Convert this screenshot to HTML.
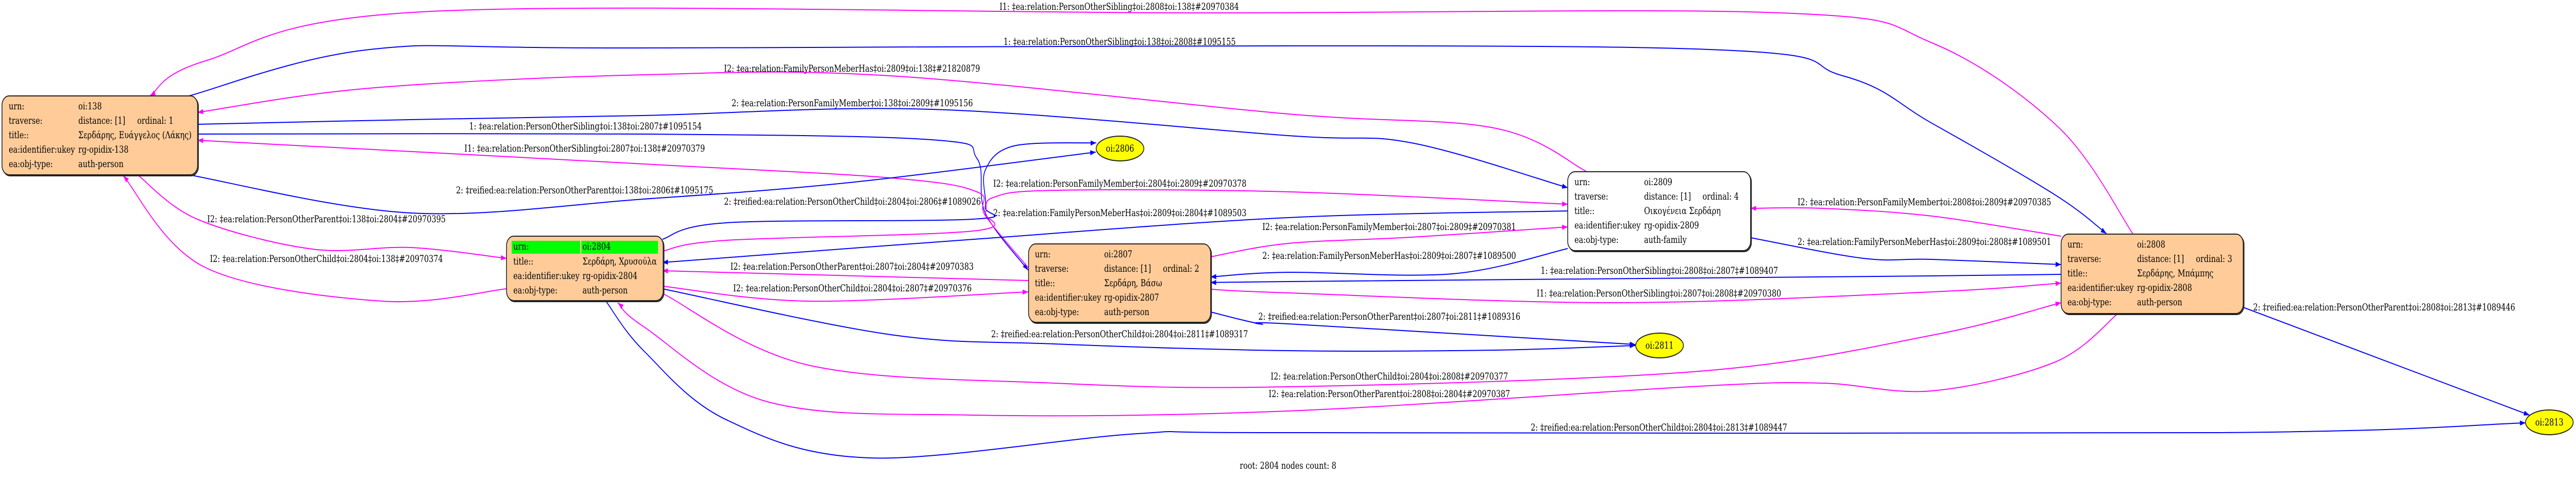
<!DOCTYPE html>
<html><head><meta charset="utf-8"><style>
html,body{margin:0;padding:0;background:#fff;width:100%;height:100%;overflow:hidden;}
svg{display:block;position:absolute;left:0;top:0;width:100vw;height:100vh;}
text{font-family:"DejaVu Serif","Liberation Serif",serif;font-size:18.67px;fill:#000;}
</style></head><body>
<svg id="s" viewBox="0 0 6479 925" preserveAspectRatio="none" xmlns="http://www.w3.org/2000/svg">
<defs>
<marker id="mm" markerUnits="userSpaceOnUse" markerWidth="16" markerHeight="12" refX="14" refY="5" orient="auto"><path d="M0,0 L14,5 L0,10 z" fill="#ff00ff"/></marker>
<marker id="mb" markerUnits="userSpaceOnUse" markerWidth="16" markerHeight="12" refX="14" refY="5" orient="auto"><path d="M0,0 L14,5 L0,10 z" fill="#0000ff"/></marker>
</defs>
<g id="edges" fill="none" stroke-width="2"></g>

<g stroke="#222" stroke-width="2">
<rect x="7" y="188" width="492" height="153" rx="18" fill="#555"/>
<rect x="5" y="186" width="492" height="153" rx="18" fill="#ffcc99"/>
<rect x="1276" y="460" width="394" height="125" rx="18" fill="#555"/>
<rect x="1274" y="458" width="394" height="125" rx="18" fill="#ffcc99"/>
<rect x="2589" y="475" width="458" height="152" rx="18" fill="#555"/>
<rect x="2587" y="473" width="458" height="152" rx="18" fill="#ffcc99"/>
<rect x="3945" y="335" width="460" height="153" rx="18" fill="#555"/>
<rect x="3943" y="333" width="460" height="153" rx="18" fill="#fff"/>
<rect x="5186" y="456" width="458" height="154" rx="18" fill="#555"/>
<rect x="5184" y="454" width="458" height="154" rx="18" fill="#ffcc99"/>
<ellipse cx="2817" cy="288" rx="60" ry="24" fill="#ffff00"/>
<ellipse cx="4174" cy="670" rx="60" ry="24" fill="#ffff00"/>
<ellipse cx="6412" cy="819" rx="60" ry="24" fill="#ffff00"/>
</g>
<rect x="1287" y="467" width="172" height="25" fill="#00ff00"/>
<rect x="1462" y="467" width="193" height="25" fill="#00ff00"/>

<g>
<text x="22" y="212">urn:</text><text x="197" y="212">oi:138</text>
<text x="22" y="240">traverse:</text><text x="197" y="240">distance: [1]</text><text x="345" y="240">ordinal: 1</text>
<text x="22" y="268">title::</text><text x="197" y="268">Σερδάρης, Ευάγγελος (Λάκης)</text>
<text x="22" y="296">ea:identifier:ukey</text><text x="197" y="296">rg-opidix-138</text>
<text x="22" y="324">ea:obj-type:</text><text x="197" y="324">auth-person</text>

<text x="1291" y="484">urn:</text><text x="1465" y="484">oi:2804</text>
<text x="1291" y="513">title::</text><text x="1465" y="513">Σερδάρη, Χρυσούλα</text>
<text x="1291" y="541">ea:identifier:ukey</text><text x="1465" y="541">rg-opidix-2804</text>
<text x="1291" y="569">ea:obj-type:</text><text x="1465" y="569">auth-person</text>

<text x="2603" y="499">urn:</text><text x="2777" y="499">oi:2807</text>
<text x="2603" y="527">traverse:</text><text x="2777" y="527">distance: [1]</text><text x="2925" y="527">ordinal: 2</text>
<text x="2603" y="555">title::</text><text x="2777" y="555">Σερδάρη, Βάσω</text>
<text x="2603" y="583">ea:identifier:ukey</text><text x="2777" y="583">rg-opidix-2807</text>
<text x="2603" y="611">ea:obj-type:</text><text x="2777" y="611">auth-person</text>

<text x="3960" y="359">urn:</text><text x="4135" y="359">oi:2809</text>
<text x="3960" y="387">traverse:</text><text x="4135" y="387">distance: [1]</text><text x="4282" y="387">ordinal: 4</text>
<text x="3960" y="415">title::</text><text x="4135" y="415">Οικογένεια Σερδάρη</text>
<text x="3960" y="443">ea:identifier:ukey</text><text x="4135" y="443">rg-opidix-2809</text>
<text x="3960" y="471">ea:obj-type:</text><text x="4135" y="471">auth-family</text>

<text x="5200" y="480">urn:</text><text x="5375" y="480">oi:2808</text>
<text x="5200" y="508">traverse:</text><text x="5375" y="508">distance: [1]</text><text x="5523" y="508">ordinal: 3</text>
<text x="5200" y="536">title::</text><text x="5375" y="536">Σερδάρης, Μπάμπης</text>
<text x="5200" y="564">ea:identifier:ukey</text><text x="5375" y="564">rg-opidix-2808</text>
<text x="5200" y="592">ea:obj-type:</text><text x="5375" y="592">auth-person</text>

<text x="2817" y="294" text-anchor="middle">oi:2806</text>
<text x="4174" y="676" text-anchor="middle">oi:2811</text>
<text x="6412" y="825" text-anchor="middle">oi:2813</text>
</g>

<g>
<text x="2514" y="19" textLength="602" lengthAdjust="spacingAndGlyphs">I1: ‡ea:relation:PersonOtherSibling‡oi:2808‡oi:138‡#20970384</text>
<text x="2524" y="87" textLength="584" lengthAdjust="spacingAndGlyphs">1: ‡ea:relation:PersonOtherSibling‡oi:138‡oi:2808‡#1095155</text>
<text x="1821" y="139" textLength="644" lengthAdjust="spacingAndGlyphs">I2: ‡ea:relation:FamilyPersonMeberHas‡oi:2809‡oi:138‡#21820879</text>
<text x="1840" y="206" textLength="607" lengthAdjust="spacingAndGlyphs">2: ‡ea:relation:PersonFamilyMember‡oi:138‡oi:2809‡#1095156</text>
<text x="1180" y="251" textLength="585" lengthAdjust="spacingAndGlyphs">1: ‡ea:relation:PersonOtherSibling‡oi:138‡oi:2807‡#1095154</text>
<text x="1168" y="294" textLength="605" lengthAdjust="spacingAndGlyphs">I1: ‡ea:relation:PersonOtherSibling‡oi:2807‡oi:138‡#20970379</text>
<text x="1147" y="375" textLength="647" lengthAdjust="spacingAndGlyphs">2: ‡reified:ea:relation:PersonOtherParent‡oi:138‡oi:2806‡#1095175</text>
<text x="521" y="431" textLength="600" lengthAdjust="spacingAndGlyphs">I2: ‡ea:relation:PersonOtherParent‡oi:138‡oi:2804‡#20970395</text>
<text x="528" y="508" textLength="586" lengthAdjust="spacingAndGlyphs">I2: ‡ea:relation:PersonOtherChild‡oi:2804‡oi:138‡#20970374</text>
<text x="1821" y="397" textLength="646" lengthAdjust="spacingAndGlyphs">2: ‡reified:ea:relation:PersonOtherChild‡oi:2804‡oi:2806‡#1089026</text>
<text x="2498" y="362" textLength="637" lengthAdjust="spacingAndGlyphs">I2: ‡ea:relation:PersonFamilyMember‡oi:2804‡oi:2809‡#20970378</text>
<text x="2498" y="419" textLength="637" lengthAdjust="spacingAndGlyphs">2: ‡ea:relation:FamilyPersonMeberHas‡oi:2809‡oi:2804‡#1089503</text>
<text x="1837" y="523" textLength="612" lengthAdjust="spacingAndGlyphs">I2: ‡ea:relation:PersonOtherParent‡oi:2807‡oi:2804‡#20970383</text>
<text x="1844" y="565" textLength="600" lengthAdjust="spacingAndGlyphs">I2: ‡ea:relation:PersonOtherChild‡oi:2804‡oi:2807‡#20970376</text>
<text x="2493" y="654" textLength="646" lengthAdjust="spacingAndGlyphs">2: ‡reified:ea:relation:PersonOtherChild‡oi:2804‡oi:2811‡#1089317</text>
<text x="3165" y="620" textLength="659" lengthAdjust="spacingAndGlyphs">2: ‡reified:ea:relation:PersonOtherParent‡oi:2807‡oi:2811‡#1089316</text>
<text x="3175" y="446" textLength="638" lengthAdjust="spacingAndGlyphs">I2: ‡ea:relation:PersonFamilyMember‡oi:2807‡oi:2809‡#20970381</text>
<text x="3175" y="502" textLength="638" lengthAdjust="spacingAndGlyphs">2: ‡ea:relation:FamilyPersonMeberHas‡oi:2809‡oi:2807‡#1089500</text>
<text x="3875" y="531" textLength="597" lengthAdjust="spacingAndGlyphs">1: ‡ea:relation:PersonOtherSibling‡oi:2808‡oi:2807‡#1089407</text>
<text x="3865" y="575" textLength="615" lengthAdjust="spacingAndGlyphs">I1: ‡ea:relation:PersonOtherSibling‡oi:2807‡oi:2808‡#20970380</text>
<text x="4521" y="398" textLength="638" lengthAdjust="spacingAndGlyphs">I2: ‡ea:relation:PersonFamilyMember‡oi:2808‡oi:2809‡#20970385</text>
<text x="4521" y="475" textLength="638" lengthAdjust="spacingAndGlyphs">2: ‡ea:relation:FamilyPersonMeberHas‡oi:2809‡oi:2808‡#1089501</text>
<text x="3196" y="736" textLength="597" lengthAdjust="spacingAndGlyphs">I2: ‡ea:relation:PersonOtherChild‡oi:2804‡oi:2808‡#20970377</text>
<text x="3191" y="770" textLength="607" lengthAdjust="spacingAndGlyphs">I2: ‡ea:relation:PersonOtherParent‡oi:2808‡oi:2804‡#20970387</text>
<text x="3850" y="835" textLength="645" lengthAdjust="spacingAndGlyphs">2: ‡reified:ea:relation:PersonOtherChild‡oi:2804‡oi:2813‡#1089447</text>
<text x="5667" y="602" textLength="659" lengthAdjust="spacingAndGlyphs">2: ‡reified:ea:relation:PersonOtherParent‡oi:2808‡oi:2813‡#1089446</text>
<text x="3118" y="909" textLength="243" lengthAdjust="spacingAndGlyphs">root: 2804 nodes count: 8</text>
</g>
</svg>
<script>
var M='#ff00ff',B='#0000ff';
var E=[
[M,[[5365,454],[5179,248],[4859,83],[4480,25],[3000,25],[1085,22],[517,118],[377,186]]],
[B,[[475,186],[930,96],[1600,93],[4170,93],[4635,147],[4859,239],[5169,378],[5298,453]]],
[M,[[3989,332],[3757,248],[3240,221],[2240,147],[1620,145],[930,171],[497,218]]],
[B,[[497,241],[1033,232],[1620,224],[2343,212],[3240,263],[3550,277],[3943,364]]],
[B,[[497,260],[1620,260],[2343,271],[2457,307],[2478,413],[2586,524]]],
[M,[[2586,519],[2478,418],[2457,372],[2240,345],[1620,318],[497,272]]],
[B,[[475,339],[1033,413],[1620,386],[2137,354],[2756,295]]],
[M,[[346,339],[496,425],[785,483],[1033,480],[1274,501]]],
[M,[[1274,560],[961,584],[517,519],[310,341]]],
[B,[[1666,464],[1827,432],[2447,425],[2478,401],[2478,330],[2550,283],[2757,277]]],
[M,[[1666,487],[1827,466],[2447,448],[2478,413],[2498,383],[2653,369],[3240,372],[3943,396]]],
[B,[[3943,409],[3240,422],[2467,463],[1666,509]]],
[M,[[2586,544],[1666,525]]],
[M,[[1666,555],[2033,584],[2586,566]]],
[B,[[1666,560],[2240,649],[2653,667],[3240,680],[3757,679],[4113,670]]],
[B,[[3045,605],[3170,628],[3240,628],[4113,668]]],
[M,[[3045,498],[3240,472],[3550,460],[3943,440]]],
[B,[[3943,482],[3653,531],[3240,528],[3045,537]]],
[B,[[5184,532],[4860,535],[3240,546],[3045,548]]],
[M,[[3045,561],[3240,568],[4067,587],[4860,566],[5184,549]]],
[M,[[5184,458],[4859,419],[4583,404],[4403,404]]],
[B,[[4403,461],[4687,501],[4860,503],[5184,513]]],
[M,[[1669,570],[2033,708],[2653,743],[3240,750],[4273,720],[4860,650],[5184,587]]],
[M,[[5327,608],[5169,702],[4859,758],[4583,743],[4273,749],[3240,797],[2447,805],[1930,779],[1620,634],[1554,587]]],
[B,[[1524,584],[1620,681],[1827,814],[2188,888],[2860,841],[3240,839],[5582,839],[6352,820]]],
[B,[[5642,596],[6362,805]]]
];
function cr(p){if(p.length==2)return 'M'+p[0]+' L'+p[1];var d='M'+p[0][0]+','+p[0][1];
for(var i=0;i<p.length-1;i++){var p0=p[i-1]||p[i],p1=p[i],p2=p[i+1],p3=p[i+2]||p2;
var c1=[p1[0]+(p2[0]-p0[0])/6,p1[1]+(p2[1]-p0[1])/6],c2=[p2[0]-(p3[0]-p1[0])/6,p2[1]-(p3[1]-p1[1])/6];
d+=' C'+c1+' '+c2+' '+p2;}return d;}
var g=document.getElementById('edges'),ns='http://www.w3.org/2000/svg';
E.forEach(function(e){var p=document.createElementNS(ns,'path');p.setAttribute('d',cr(e[1]));p.setAttribute('stroke',e[0]);
p.setAttribute('marker-end','url(#'+(e[0]==M?'mm':'mb')+')');g.appendChild(p);});
</script>
</body></html>
